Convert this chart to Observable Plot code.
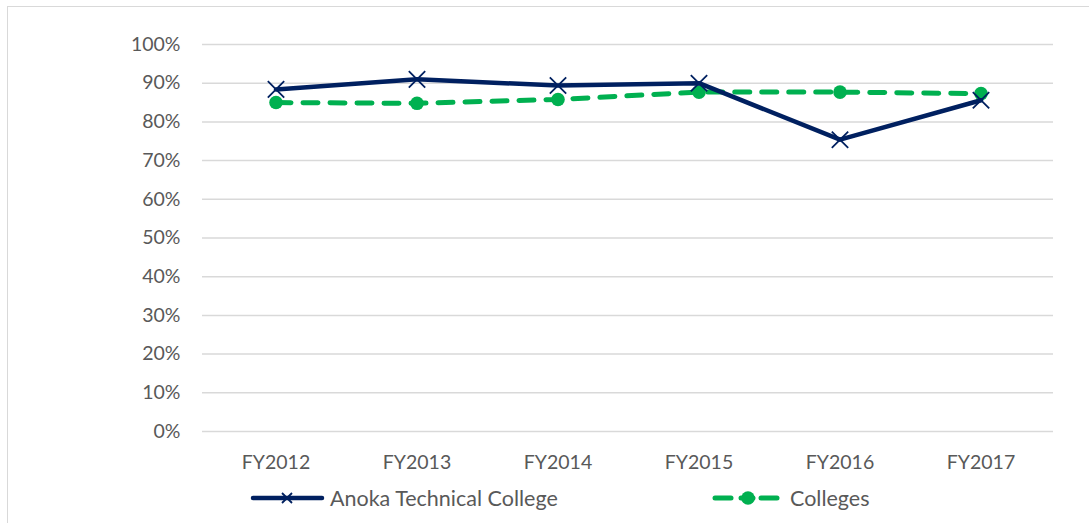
<!DOCTYPE html>
<html>
<head>
<meta charset="utf-8">
<script src="https://cdn.jsdelivr.net/npm/d3@7"></script>
<script src="https://cdn.jsdelivr.net/npm/@observablehq/plot@0.6"></script>
<style>
  html, body { margin: 0; padding: 0; background: #fff; }
  #wrap { position: relative; width: 1089px; height: 523px; overflow: hidden; font-family: Lato, "Open Sans", sans-serif; }
  #frame { position: absolute; left: 7px; top: 6px; width: 2000px; height: 2000px; border-left: 1.5px solid #d9d9d9; border-top: 1.5px solid #d9d9d9; box-sizing: border-box; }
  #chart { position: absolute; left: 0; top: 0; }
  .legend { position: absolute; top: 484px; height: 28px; display: flex; align-items: center; font-size: 21.5px; color: #595959; white-space: nowrap; }
</style>
</head>
<body>
<div id="wrap">
  <div id="frame"></div>
  <div id="chart"></div>
  <div class="legend" id="leg1" style="left:250px"></div>
  <div class="legend" id="leg2" style="left:711px"></div>
</div>
<script>
const years = ["FY2012", "FY2013", "FY2014", "FY2015", "FY2016", "FY2017"];
const anoka = [0.884, 0.910, 0.894, 0.900, 0.754, 0.856];
const colleges = [0.850, 0.848, 0.858, 0.877, 0.877, 0.873];
const yTicks = [0, 0.1, 0.2, 0.3, 0.4, 0.5, 0.6, 0.7, 0.8, 0.9, 1.0];
const seriesNames = ["Anoka Technical College", "Colleges"];
const navy = "#002060", green = "#00b050";

const dataA = years.map((y, i) => ({year: y, value: anoka[i]}));
const dataC = years.map((y, i) => ({year: y, value: colleges[i]}));

const plot = Plot.plot({
  width: 1089,
  height: 523,
  marginLeft: 202,
  marginRight: 36,
  marginTop: 44,
  marginBottom: 92,
  style: {fontFamily: "Lato, 'Open Sans', sans-serif", fontSize: "19.5px", color: "#595959", background: "transparent", overflow: "visible"},
  x: {type: "band", domain: years, padding: 0, label: null},
  y: {domain: [0, 1], label: null},
  marks: [
    Plot.gridY(yTicks, {stroke: "#d9d9d9", strokeOpacity: 1, strokeWidth: 1.5}),
    Plot.axisY(yTicks, {tickSize: 0, tickPadding: 22, tickFormat: d => Math.round(d * 100) + "%", fill: "#595959", fontSize: 19.5}),
    Plot.axisX({tickSize: 0, tickPadding: 24, fill: "#595959", fontSize: 19.5}),
    Plot.line(dataC, {x: "year", y: "value", stroke: green, strokeWidth: 5, strokeDasharray: "15,12", strokeLinecap: "round"}),
    Plot.dot(dataC, {x: "year", y: "value", fill: green, r: 6.8, stroke: "none"}),
    Plot.line(dataA, {x: "year", y: "value", stroke: navy, strokeWidth: 4.5}),
    Plot.dot(dataA, {x: "year", y: "value", symbol: "times", stroke: navy, strokeWidth: 1.8, r: 7.5})
  ]
});
document.getElementById("chart").appendChild(plot);

function legendSvg(kind) {
  const ns = "http://www.w3.org/2000/svg";
  const svg = document.createElementNS(ns, "svg");
  svg.setAttribute("width", kind === "a" ? 76 : 70);
  svg.setAttribute("height", 24);
  svg.style.marginRight = kind === "a" ? "4px" : "9px";
  if (kind === "a") {
    svg.innerHTML = `<line x1="3" x2="72" y1="12" y2="12" stroke="${navy}" stroke-width="4.5" stroke-linecap="round"/>
      <path d="M32,7 L42,17 M42,7 L32,17" stroke="${navy}" stroke-width="1.8"/>`;
  } else {
    svg.innerHTML = `<line x1="4" x2="20" y1="12" y2="12" stroke="${green}" stroke-width="5" stroke-linecap="round"/>
      <line x1="50" x2="66" y1="12" y2="12" stroke="${green}" stroke-width="5" stroke-linecap="round"/>
      <line x1="30" x2="42" y1="12" y2="12" stroke="${green}" stroke-width="5" stroke-linecap="round"/>
      <circle cx="37" cy="12" r="6.8" fill="${green}"/>`;
  }
  return svg;
}
const l1 = document.getElementById("leg1");
l1.appendChild(legendSvg("a"));
l1.appendChild(document.createTextNode(seriesNames[0]));
const l2 = document.getElementById("leg2");
l2.appendChild(legendSvg("c"));
l2.appendChild(document.createTextNode(seriesNames[1]));
</script>
</body>
</html>
